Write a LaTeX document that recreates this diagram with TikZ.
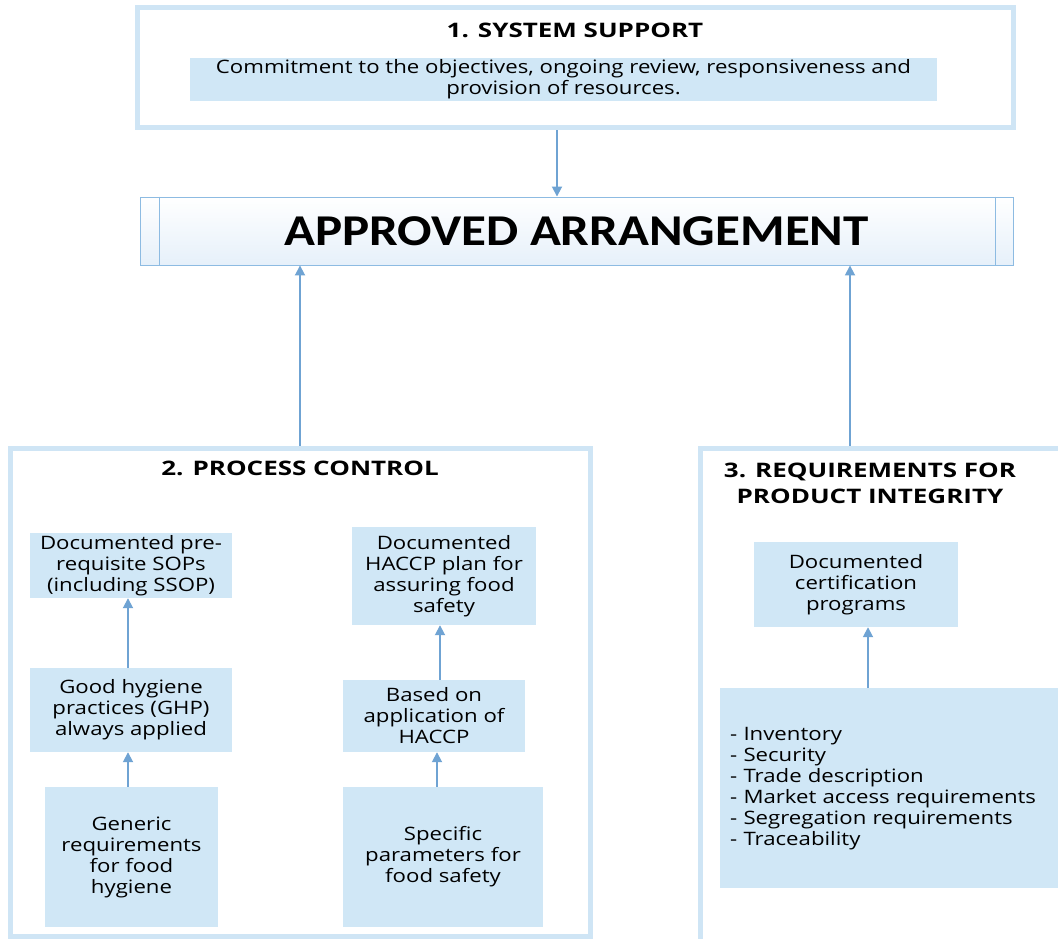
\documentclass[tikz,border=0pt]{standalone}
\usepackage{fontspec}
\setmainfont[FakeStretch=1.2]{Open Sans}
\newfontfamily\headfont[FakeStretch=1.3]{Open Sans}
\newfontfamily\bannerfont[FakeStretch=1.16]{Carlito}
\usetikzlibrary{positioning,arrows.meta}

\definecolor{panelline}{HTML}{CFE5F5}
\definecolor{boxfill}{HTML}{D0E7F6}
\definecolor{arrowblue}{HTML}{6FA3D3}
\definecolor{bannerline}{HTML}{8DBBE2}
\definecolor{bannerfill}{HTML}{E6F0FA}

\begin{document}
\begin{tikzpicture}[x=1pt,y=-1pt,
  panel/.style={draw=panelline, line width=5pt, inner sep=0pt},
  infobox/.style={fill=boxfill, inner sep=0pt, align=center, font=\fontsize{18.5}{21}\selectfont},
  head/.style={font=\headfont\fontsize{20}{26}\selectfont\bfseries, align=center},
  link/.style={draw=arrowblue, line width=1.8pt, -{Triangle[width=10pt,length=10pt]}}]

\useasboundingbox (0,0) rectangle (1058,939);
\clip (0,0) rectangle (1058,939);

% 1. system support
\node[panel, minimum width=876pt, minimum height=120pt] (support) at (575,68) {};
\node[head] (supporthead) at (575,30) {1. SYSTEM SUPPORT};
\node[infobox, minimum width=747pt, minimum height=43pt] (commit) at (563.5,79.5)
  {Commitment to the objectives, ongoing review, responsiveness and\\provision of resources.};

% approved arrangement
\node[draw=bannerline, line width=0.9pt, minimum width=873pt, minimum height=68pt,
  top color=white, bottom color=bannerfill, font=\bannerfont\fontsize{44}{50}\selectfont\bfseries]
  (approved) at (576.5,231) {APPROVED ARRANGEMENT};
\draw[bannerline, line width=0.9pt] ([xshift=20pt]approved.north west) -- ([xshift=20pt]approved.south west);
\draw[bannerline, line width=0.9pt] ([xshift=-18pt]approved.north east) -- ([xshift=-18pt]approved.south east);

% 2. process control
\node[panel, minimum width=580pt, minimum height=488pt] (process) at (300,692) {};
\node[head] (processhead) at (300,468) {2. PROCESS CONTROL};

\node[infobox, minimum width=202pt, minimum height=65pt] (sops) at (131,565.5)
  {Documented pre-\\requisite SOPs\\(including SSOP)};
\node[infobox, minimum width=202pt, minimum height=84pt] (ghp) at (131,710)
  {Good hygiene\\practices (GHP)\\always applied};
\node[infobox, minimum width=173pt, minimum height=140pt] (generic) at (131.5,857)
  {Generic\\requirements\\for food\\hygiene};

\node[infobox, minimum width=184pt, minimum height=98pt] (plan) at (444,576)
  {Documented\\HACCP plan for\\assuring food\\safety};
\node[infobox, minimum width=182pt, minimum height=72pt] (based) at (434,716)
  {Based on\\application of\\HACCP};
\node[infobox, minimum width=200pt, minimum height=140pt] (specific) at (443,857)
  {Specific\\parameters for\\food safety};

% 3. product integrity
\node[panel, minimum width=400pt, minimum height=552pt] (integrity) at (900,724) {};
\node[head] (integrityhead) at (870,483) {3. REQUIREMENTS FOR\\PRODUCT INTEGRITY};

\node[infobox, minimum width=204pt, minimum height=85pt] (certif) at (856,584.5)
  {Documented\\certification\\programs};
\node[infobox, anchor=north west, text width=330pt, inner xsep=10pt, minimum height=200pt, align=left]
  (checks) at (720,688)
  {- Inventory\\- Security\\- Trade description\\- Market access requirements\\- Segregation requirements\\- Traceability};

% arrows
\coordinate (s1) at ([xshift=-18pt]support.south);
\coordinate (p1) at (process.north);
\coordinate (i1) at ([xshift=-50pt]integrity.north);
\coordinate (c1) at ([xshift=12pt]certif.south);

\draw[link] (s1) -- (s1 |- approved.north);
\draw[link] (p1) -- (p1 |- approved.south);
\draw[link] (i1) -- (i1 |- approved.south);

\draw[link] (ghp.north -| 128,0) -- (sops.south -| 128,0);
\draw[link] (generic.north -| 128,0) -- (ghp.south -| 128,0);
\draw[link] (based.north -| 440,0) -- (plan.south -| 440,0);
\draw[link] (specific.north -| 437,0) -- (based.south -| 437,0);
\draw[link] (checks.north -| c1) -- (c1);

\end{tikzpicture}
\end{document}
